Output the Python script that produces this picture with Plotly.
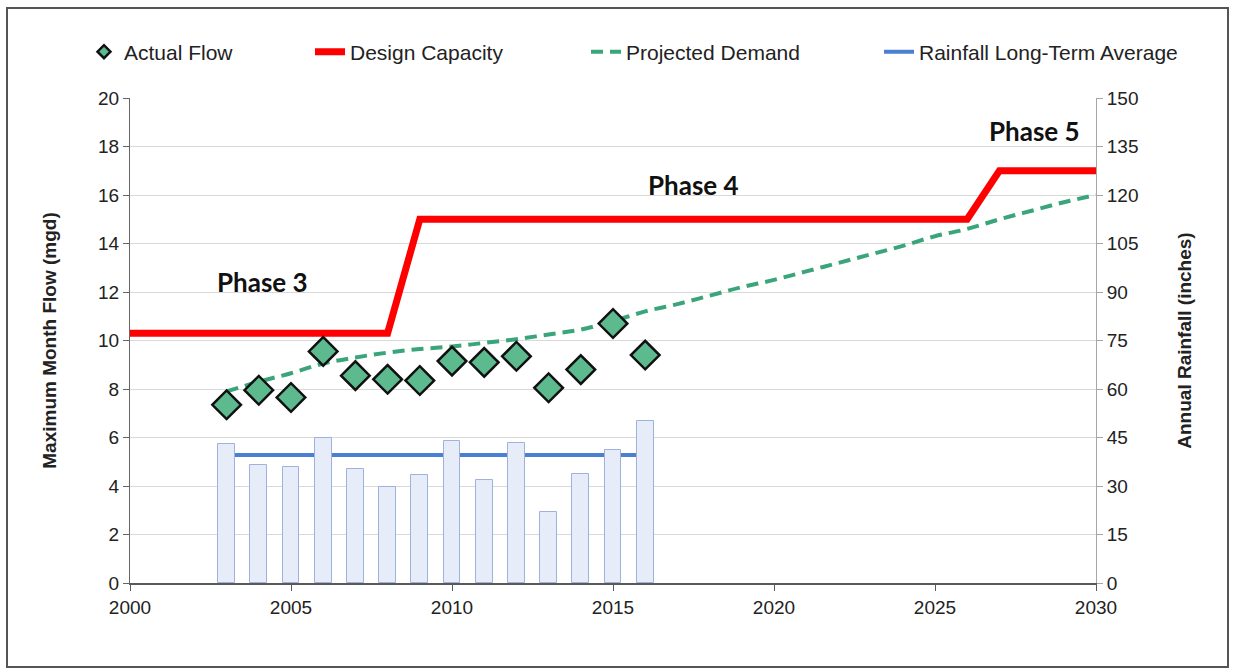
import plotly.graph_objects as go

# ---------------- data ----------------
years = [2003, 2004, 2005, 2006, 2007, 2008, 2009, 2010, 2011, 2012, 2013, 2014, 2015, 2016]
actual_flow = [7.35, 7.95, 7.65, 9.55, 8.55, 8.4, 8.35, 9.15, 9.1, 9.35, 8.05, 8.8, 10.7, 9.4]
annual_rainfall = [43.0, 36.6, 36.0, 44.8, 35.4, 29.8, 33.3, 43.8, 32.0, 43.3, 21.9, 33.6, 41.0, 50.0]
rain_avg = 39.6

cap_years = [2000, 2008, 2009, 2026, 2027, 2030]
cap_values = [10.3, 10.3, 15.0, 15.0, 17.0, 17.0]

demand_years = [2003, 2004, 2005, 2006, 2007, 2008, 2009, 2010, 2011, 2012, 2013, 2014, 2015,
                2016, 2017, 2018, 2019, 2020, 2021, 2022, 2023, 2024, 2025, 2026, 2027, 2028,
                2029, 2030]
demand_values = [7.9, 8.3, 8.65, 9.05, 9.3, 9.5, 9.65, 9.75, 9.9, 10.05, 10.25, 10.45, 10.8,
                 11.2, 11.5, 11.85, 12.2, 12.5, 12.85, 13.2, 13.55, 13.9, 14.3, 14.6, 15.0,
                 15.35, 15.7, 16.0]

phase_labels = ["Phase 3", "Phase 4", "Phase 5"]
phase_x = [2004.1, 2017.5, 2028.1]
phase_y = [12.4, 16.4, 18.65]

left_ticks = list(range(0, 21, 2))
right_ticks = list(range(0, 151, 15))
x_ticks = list(range(2000, 2031, 5))

# ---------------- styling ----------------
FONT = "Liberation Sans, Arial, sans-serif"
GREEN_FILL = "#5DBA8F"
RED = "#FF0000"
GREEN_DASH = "#3AA57A"
BLUE = "#4A7FD4"

L, R, T, B = 130, 138, 98, 88
W, H = 1234, 671
pw, ph = W - L - R, H - T - B


def px_x(px):
    return (px - L) / pw


def px_y(py):
    return (H - B - py) / ph


fig = go.Figure()

# rainfall bars (hidden overlay axis so they draw above the average line)
fig.add_trace(go.Bar(
    x=years, y=annual_rainfall, yaxis="y3", width=0.52,
    marker=dict(color="#E6EDF9", line=dict(color="#9FB1DD", width=1)),
    showlegend=False, hoverinfo="x+y",
))

# rainfall long-term average
fig.add_trace(go.Scatter(
    x=[years[0], years[-1]], y=[rain_avg, rain_avg], yaxis="y2", mode="lines",
    line=dict(color=BLUE, width=4), name="Rainfall Long-Term Average",
    legend="legend4",
))

# design capacity
fig.add_trace(go.Scatter(
    x=cap_years, y=cap_values, mode="lines",
    line=dict(color=RED, width=7), name="Design Capacity", legend="legend2",
))

# projected demand
fig.add_trace(go.Scatter(
    x=demand_years, y=demand_values, mode="lines", line_shape="spline",
    line=dict(color=GREEN_DASH, width=4, dash="12px,7px"), name="Projected Demand",
    legend="legend3",
))

# actual flow
fig.add_trace(go.Scatter(
    x=years, y=actual_flow, mode="markers",
    marker=dict(symbol="diamond", size=22, color=GREEN_FILL, line=dict(color="#111111", width=2.5)),
    name="Actual Flow", showlegend=False,
))
# legend-only entry for actual flow (small symbol)
fig.add_trace(go.Scatter(
    x=[None], y=[None], mode="markers",
    marker=dict(symbol="diamond", size=10, color=GREEN_FILL, line=dict(color="#111111", width=2.5)),
    name="Actual Flow", legend="legend",
))

for lbl, xx, yy in zip(phase_labels, phase_x, phase_y):
    fig.add_annotation(x=xx, y=yy, text="<b>" + lbl + "</b>", showarrow=False,
                       font=dict(family="Lato, Open Sans, sans-serif", size=26, color="#111111"),
                       xanchor="center", yanchor="middle")

legend_common = dict(orientation="h", yanchor="middle", xanchor="left",
                     font=dict(family=FONT, size=21, color="#222222"),
                     bgcolor="rgba(0,0,0,0)", borderwidth=0, tracegroupgap=0)
leg_y = px_y(52)
text_starts = [126, 352, 628, 921]

fig.update_layout(
    width=W, height=H,
    margin=dict(l=L, r=R, t=T, b=B, autoexpand=False),
    paper_bgcolor="white", plot_bgcolor="white",
    font=dict(family=FONT, size=19, color="#222222"),
    bargap=0,
    legend=dict(x=px_x(text_starts[0] - 42), y=leg_y, **legend_common),
    legend2=dict(x=px_x(text_starts[1] - 42), y=leg_y, **legend_common),
    legend3=dict(x=px_x(text_starts[2] - 42), y=leg_y, **legend_common),
    legend4=dict(x=px_x(text_starts[3] - 42), y=leg_y, **legend_common),
    xaxis=dict(range=[2000, 2030], tickvals=x_ticks, showgrid=False, zeroline=False,
               showline=True, linecolor="#595959", linewidth=2, ticks="outside", ticklen=6,
               tickcolor="#595959", tickfont=dict(size=19, color="#222222")),
    yaxis=dict(range=[0, 20], tickvals=left_ticks, showgrid=True, gridcolor="#D9D9D9",
               gridwidth=1, zeroline=False, showline=True, linecolor="#666666", linewidth=1,
               ticks="outside", ticklen=6, tickcolor="#666666",
               tickfont=dict(size=19, color="#222222"),
               title=dict(text="<b>Maximum Month Flow (mgd)</b>", standoff=36,
                          font=dict(size=19, color="#222222"))),
    yaxis2=dict(range=[0, 150], tickvals=right_ticks, overlaying="y", side="right",
                showgrid=False, zeroline=False, showline=True, linecolor="#A6A6A6",
                linewidth=1, ticks="outside", ticklen=6, tickcolor="#A6A6A6",
                tickfont=dict(size=19, color="#222222"),
                title=dict(text="<b>Annual Rainfall (inches)</b>", standoff=40,
                           font=dict(size=19, color="#222222"))),
    yaxis3=dict(range=[0, 150], overlaying="y", visible=False),
    shapes=[dict(type="rect", xref="paper", yref="paper",
                 x0=px_x(7), x1=px_x(1228), y0=px_y(667), y1=px_y(8),
                 line=dict(color="#555555", width=2), fillcolor="rgba(0,0,0,0)", layer="below")],
)

fig.write_html("out.html", config={"displayModeBar": False},
               post_script="document.body.style.margin='0';document.body.style.overflow='hidden';window.dispatchEvent(new Event('resize'));")
